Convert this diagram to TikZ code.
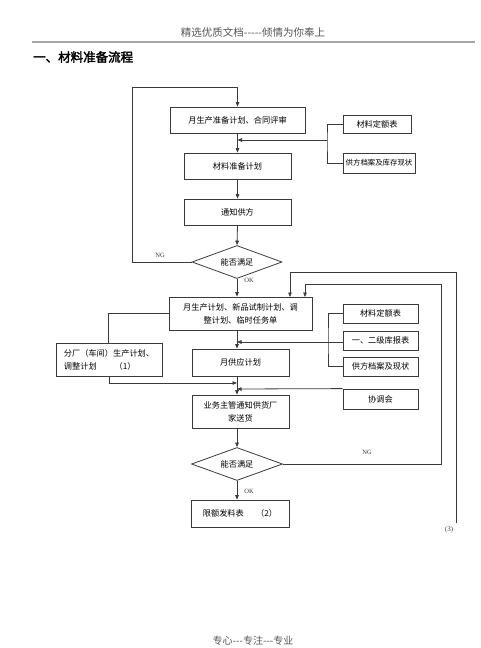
\documentclass[tikz,border=0pt]{standalone}
\usepackage{fontspec}
\setmainfont{Liberation Serif}
\newfontfamily\cjk[AutoFakeBold=2.5]{Noto Sans CJK SC}
\usetikzlibrary{arrows.meta,shapes.geometric}
\definecolor{ln}{HTML}{3A3A3A}
\definecolor{hd}{HTML}{555555}
\tikzset{
  box/.style={draw=ln,line width=0.8pt,inner sep=1pt,align=center,font=\cjk\fontsize{8.2}{13}\selectfont},
  dia/.style={draw=ln,line width=0.8pt,diamond,aspect=2.7,inner sep=0pt,font=\cjk\fontsize{8.2}{10}\selectfont},
  conn/.style={draw=ln,line width=0.8pt},
  arr/.style={conn,-{Triangle[length=4.5pt,width=3.6pt]}},
  lab/.style={font=\fontsize{6.5}{7}\selectfont,text=ln,inner sep=0pt}
}
\begin{document}
\begin{tikzpicture}[x=1pt,y=-1pt]
\useasboundingbox (0,0) rectangle (480,648);
% header
\node[font=\cjk\fontsize{10.5}{12}\selectfont,text=hd] (hdr) at (253,32) {精选优质文档-----倾情为你奉上};
\draw[draw=black!35,line width=1.3pt] (32,42) -- (475,42);
\node[font=\cjk\bfseries\fontsize{12.5}{14}\selectfont,anchor=west,inner sep=0pt] (ttl) at (33,57) {一、材料准备流程};
\node[font=\cjk\fontsize{10}{11}\selectfont,text=hd,inner sep=0pt] (ftr) at (253,641) {专心---专注---专业};

% main boxes
\node[box,minimum width=135,minimum height=26] (b1) at (237.5,120) {月生产准备计划、合同评审};
\node[box,minimum width=107,minimum height=26] (b2) at (237.5,166) {材料准备计划};
\node[box,minimum width=107,minimum height=26] (b3) at (237.5,212) {通知供方};
\node[dia,minimum width=90,minimum height=33] (d1) at (237,262) {能否满足};
\node[box,minimum width=143,minimum height=33] (b4) at (240.5,313.5) {月生产计划、新品试制计划、调\\整计划、临时任务单};
\node[box,minimum width=106,minimum height=33,align=left] (b5) at (109,359.5) {分厂（车间）生产计划、\\调整计划\hspace{2.2em}（1）};
\node[box,minimum width=97,minimum height=27] (b6) at (240.5,362.5) {月供应计划};
\node[box,minimum width=97,minimum height=33] (b7) at (240.5,411.5) {业务主管通知供货厂\\家送货};
\node[dia,minimum width=91,minimum height=33] (d2) at (237,464) {能否满足};
\node[box,minimum width=98,minimum height=27] (b8) at (240,513.5) {限额发料表\hspace{1.5em}（2）};

% right boxes
\node[box,minimum width=68,minimum height=18] (r1) at (377,124) {材料定额表};
\node[box,minimum width=72,minimum height=20,inner sep=0pt,font=\cjk\fontsize{7.4}{9}\selectfont] (r2) at (379,163) {供方档案及库存现状};
\node[box,minimum width=75,minimum height=19] (r3) at (380.5,313.5) {材料定额表};
\node[box,minimum width=75,minimum height=19] (r4) at (380.5,340.5) {一、二级库报表};
\node[box,minimum width=75,minimum height=19] (r5) at (380.5,366.5) {供方档案及现状};
\node[box,minimum width=75,minimum height=20] (r6) at (380.5,399) {协调会};

% coordinates
\coordinate (t1) at (132,87);
\coordinate (k1) at (327,140);
\coordinate (k2) at (328,342);
\coordinate (n2) at (441,284);
\coordinate (in1) at (305,297);
\coordinate (o1) at (456,272);
\coordinate (o2) at (456,523);
\coordinate (in2) at (290,297);
\coordinate (m1) at (237,342);
\coordinate (m2) at (237,383);
\coordinate (m3) at (237,389);
\coordinate (f1) at (108,343);

% connectors
\draw[arr] (d1.west) -| (t1) -| (b1.north);
\draw[arr] (b1) -- (b2);
\draw[conn] (r1.west) -| (k1) |- (r2.west);
\draw[arr] (k1) -- (k1 -| b1.south);
\draw[arr] (b2) -- (b3);
\draw[arr] (b3.south) -- (d1.north);
\draw[arr] (d1.south) -- (d1.south |- b4.north);
\draw[arr] (d2.east) -| (n2) -| (in1);
\draw[arr] (o2) -- (o1) -| (in2);
\draw[conn] (b4.west) -| (f1);
\draw[arr] (d1.south |- b4.south) -- (d1.south |- b6.north);
\draw[conn] (r3.west) -| (k2) |- (r5.west);
\draw[arr] (r4.west |- k2) -- (m1);
\draw[arr] (b5.south) |- (m2);
\draw[arr] (d1.south |- b6.south) -- (d1.south |- b7.north);
\draw[arr] (r6.north west) -- (m3);
\draw[arr] (d2.north |- b7.south) -- (d2.north);
\draw[arr] (d2.south) -- (d2.south |- b8.north);

% labels
\node[lab] (ng1) at (160,255) {NG};
\node[lab] (ok1) at (249,280) {OK};
\node[lab] (ng2) at (367,452) {NG};
\node[lab] (ok2) at (249,491) {OK};
\node[lab,font=\fontsize{7}{8}\selectfont] (p3) at (449,530) {(3)};
\end{tikzpicture}
\end{document}
